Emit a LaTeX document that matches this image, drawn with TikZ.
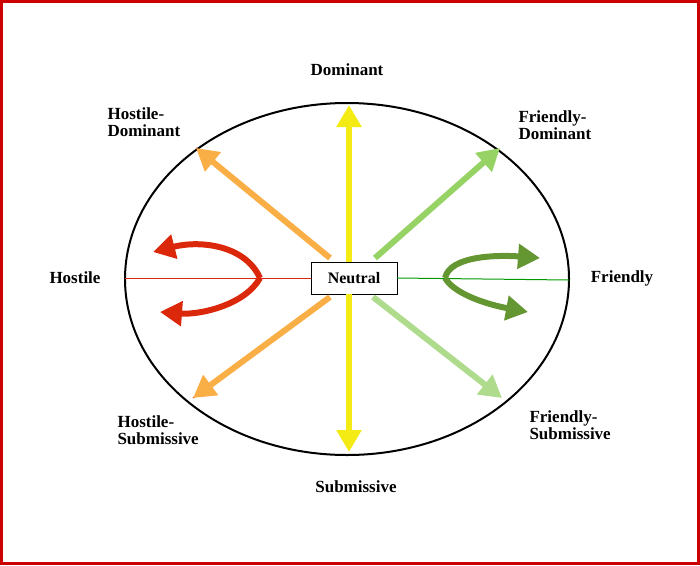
\documentclass[tikz,border=0pt]{standalone}
\usepackage{fontspec}
\setmainfont{Liberation Serif}
\usetikzlibrary{arrows.meta}
\definecolor{hostred}{RGB}{220,40,10}
\definecolor{hostorange}{RGB}{250,175,70}
\definecolor{frgreen}{RGB}{150,210,100}
\definecolor{frlight}{RGB}{175,220,140}
\definecolor{frdark}{RGB}{100,150,50}
\definecolor{domyellow}{RGB}{245,235,20}
\tikzset{
  axis/.style={line width=6pt,-{Triangle[length=22pt,width=24pt]}},
  lbl/.style={font=\bfseries\fontsize{17}{17}\selectfont, align=left},
}
\begin{document}
\begin{tikzpicture}[x=1pt,y=-1pt]
\useasboundingbox (0,0) rectangle (700,565);
\draw[red!80!black,line width=3pt] (1.5,1.5) rectangle (698.5,563.5);

\draw[line width=2pt] (347,279) ellipse [x radius=222, y radius=176];

\node[draw,fill=white,minimum width=86pt,minimum height=32pt,font=\bfseries\fontsize{16}{16}\selectfont] (neutral) at (354,278) {Neutral};
\coordinate (hw) at (125,278);
\coordinate (fe) at (569,280);
\draw[hostred,line width=1pt] (hw) -- (neutral.west);
\draw[green!60!black,line width=1pt] (neutral.east) -- (fe);

% vertical axis
\coordinate (top) at (349,105);
\coordinate (bot) at (349,452);
\draw[domyellow,axis] (neutral.north -| top) -- (top);
\draw[domyellow,axis] (neutral.south -| bot) -- (bot);

% diagonals
\coordinate (hd) at (196,148);
\coordinate (fd) at (500,148);
\coordinate (hs) at (193,398);
\coordinate (fs) at (502,398);
\draw[hostred,line width=1pt] (hd) -- (202,153);
\draw[hostorange,axis] (330,258) -- (hd);
\draw[frgreen,axis] (375,258) -- (fd);
\draw[hostred,line width=1pt] (hs) -- (199,393);
\draw[hostorange,axis] (330,297) -- (hs);
\draw[frlight,axis] (373,297) -- (fs);

% curved arrows
\draw[hostred,axis] (260,278) .. controls (245,245) and (200,240) .. (153,252);
\draw[hostred,axis] (260,278) .. controls (245,305) and (200,315) .. (160,312);
\draw[frdark,axis] (445,278) .. controls (450,255) and (500,255) .. (540,258);
\draw[frdark,axis] (445,278) .. controls (455,295) and (490,305) .. (528,312);

\node[lbl] (ldom) at (347,70) {Dominant};
\node[lbl] (lsub) at (356,487) {Submissive};
\node[lbl] (lhos) at (75,278) {Hostile};
\node[lbl] (lfri) at (622,278) {Friendly};
\node[lbl,anchor=west] (lhd) at (104,122) {Hostile-\\Dominant};
\node[lbl,anchor=west] (lfd) at (515,125) {Friendly-\\Dominant};
\node[lbl,anchor=west] (lhs) at (114,430) {Hostile-\\Submissive};
\node[lbl,anchor=west] (lfs) at (526,425) {Friendly-\\Submissive};
\end{tikzpicture}
\end{document}
